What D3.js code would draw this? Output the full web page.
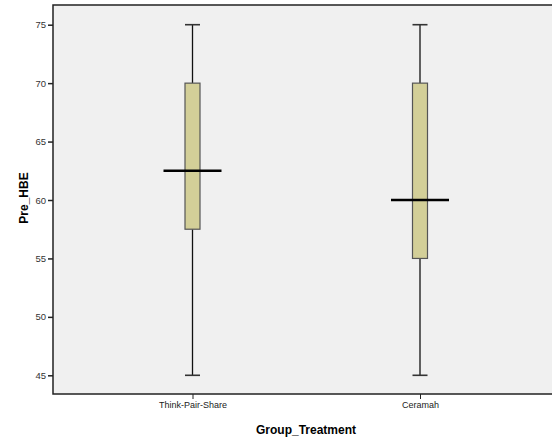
<!DOCTYPE html>
<html><head><meta charset="utf-8">
<script src="https://cdn.jsdelivr.net/npm/d3@7"></script>
<style>body{margin:0;background:#fff;}svg{display:block;}</style>
</head><body>
<svg id="c" width="552" height="444"></svg>
<script>
const categories = ["Think-Pair-Share", "Ceramah"];
const whiskerLow = [45, 45];
const q1 = [57.5, 55];
const median = [62.5, 60];
const q3 = [70, 70];
const whiskerHigh = [75, 75];
const yTicks = [45, 50, 55, 60, 65, 70, 75];

const svg = d3.select("#c");
const L = 53, T = 5, B = 394, R = 560;
const y = d3.scaleLinear().domain([45, 75]).range([375.3, 24.7]);
const x = d3.scalePoint().domain(categories).range([192.5, 420]);

svg.append("rect").attr("x", L).attr("y", T).attr("width", R - L).attr("height", B - T)
  .attr("fill", "#f0f0f0").attr("stroke", "#222").attr("stroke-width", 1.5);

const yAxis = svg.append("g").attr("transform", `translate(${L},0)`)
  .call(d3.axisLeft(y).tickValues(yTicks).tickSize(5).tickPadding(2));
yAxis.select(".domain").remove();
yAxis.selectAll("line").attr("stroke", "#222").attr("stroke-width", 1.5);
yAxis.selectAll("text").attr("font-family", "Arial, 'Liberation Sans', sans-serif").attr("font-size", 9.5).attr("fill", "#333");

const xAxis = svg.append("g").attr("transform", `translate(0,${B})`)
  .call(d3.axisBottom(x).tickSize(5).tickPadding(3));
xAxis.select(".domain").remove();
xAxis.selectAll("line").attr("stroke", "#222").attr("stroke-width", 1);
xAxis.selectAll("text").attr("font-family", "Arial, 'Liberation Sans', sans-serif").attr("font-size", 9).attr("fill", "#222");

const data = categories.map((c, i) => ({c, lo: whiskerLow[i], q1: q1[i], med: median[i], q3: q3[i], hi: whiskerHigh[i]}));
const bw = 15, capW = 15, medW = 58;
const g = svg.append("g");
data.forEach(d => {
  const cx = x(d.c);
  g.append("line").attr("x1", cx).attr("x2", cx).attr("y1", y(d.hi)).attr("y2", y(d.q3)).attr("stroke", "#111").attr("stroke-width", 1.3);
  g.append("line").attr("x1", cx).attr("x2", cx).attr("y1", y(d.q1)).attr("y2", y(d.lo)).attr("stroke", "#111").attr("stroke-width", 1.3);
  g.append("line").attr("x1", cx - capW/2).attr("x2", cx + capW/2).attr("y1", y(d.hi)).attr("y2", y(d.hi)).attr("stroke", "#333").attr("stroke-width", 1.6);
  g.append("line").attr("x1", cx - capW/2).attr("x2", cx + capW/2).attr("y1", y(d.lo)).attr("y2", y(d.lo)).attr("stroke", "#333").attr("stroke-width", 1.6);
  g.append("rect").attr("x", cx - bw/2).attr("y", y(d.q3)).attr("width", bw).attr("height", y(d.q1) - y(d.q3))
    .attr("fill", "#d3cf98").attr("stroke", "#555").attr("stroke-width", 1.2);
  g.append("line").attr("x1", cx - medW/2).attr("x2", cx + medW/2).attr("y1", y(d.med)).attr("y2", y(d.med)).attr("stroke", "#000").attr("stroke-width", 2.5);
});

svg.append("text").attr("x", 306).attr("y", 434).attr("text-anchor", "middle")
  .attr("font-family", "Arial, 'Liberation Sans', sans-serif").attr("font-weight", "bold").attr("font-size", 12).text("Group_Treatment");
svg.append("text").attr("transform", "translate(28,198) rotate(-90)").attr("text-anchor", "middle")
  .attr("font-family", "Arial, 'Liberation Sans', sans-serif").attr("font-weight", "bold").attr("font-size", 12).text("Pre_HBE");
</script>
</body></html>
